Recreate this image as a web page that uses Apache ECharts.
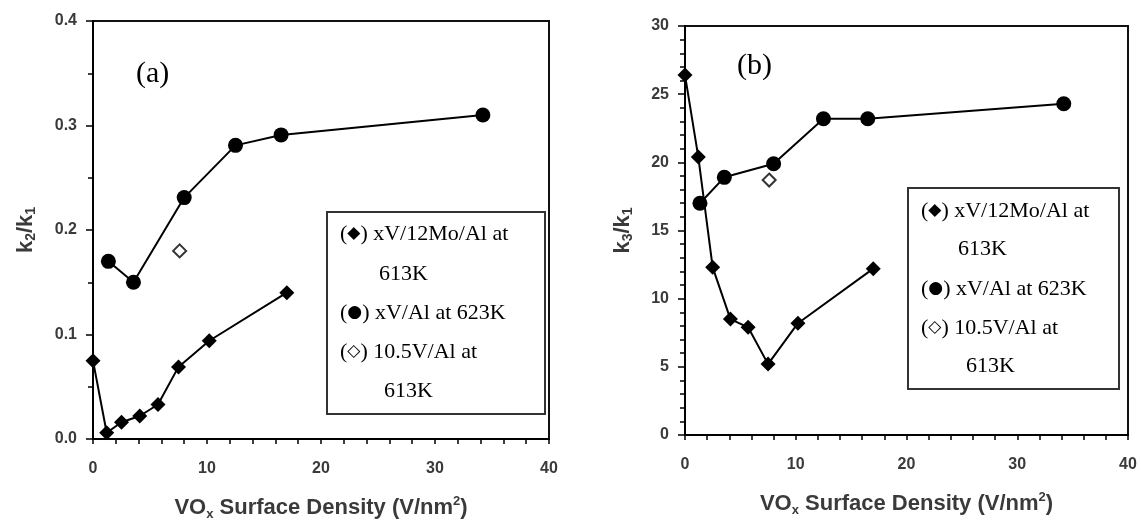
<!DOCTYPE html>
<html><head><meta charset="utf-8">
<script src="https://cdn.jsdelivr.net/npm/echarts@6/dist/echarts.min.js"></script>
<style>html,body{margin:0;padding:0;background:#fff}#c{width:1141px;height:526px}</style>
</head><body><div id="c"></div>
<script>
// Data
const moX   = [0, 1.2, 2.5, 4.1, 5.7, 7.5, 10.2, 17.0];          // xV/12Mo/Al at 613K
const moK2  = [0.075, 0.006, 0.016, 0.022, 0.033, 0.069, 0.094, 0.140];
const moK3  = [26.4, 20.4, 12.3, 8.5, 7.9, 5.2, 8.2, 12.2];
const alX   = [1.35, 3.55, 8.0, 12.5, 16.5, 34.2];               // xV/Al at 623K
const alK2  = [0.170, 0.150, 0.231, 0.281, 0.291, 0.310];
const alK3  = [17.0, 18.9, 19.9, 23.2, 23.2, 24.3];
const opX   = [7.6];                                             // 10.5V/Al at 613K
const opK2  = [0.180];
const opK3  = [18.7];
const xTicks = [0, 10, 20, 30, 40];
const yTicksA = [0, 0.1, 0.2, 0.3, 0.4];
const yTicksB = [0, 5, 10, 15, 20, 25, 30];

const zip = (xs, ys) => xs.map((x, i) => [x, ys[i]]);
const sans = 'Liberation Sans, Arial';
const serif = 'Liberation Serif, Times New Roman';
const labelFont = {fontFamily: sans, fontWeight: 'bold', fontSize: 16, color: '#3a3a3a'};

function xAxis(gi) {
  return {
    gridIndex: gi, type: 'value', min: xTicks[0], max: xTicks[xTicks.length - 1], interval: 10,
    axisLine: {show: true, onZero: false, lineStyle: {color: '#000', width: 2}},
    axisTick: {show: true, length: 5, lineStyle: {color: '#000', width: 1.5}},
    minorTick: {show: true, splitNumber: 5, length: 5, lineStyle: {color: '#000', width: 1.5}},
    splitLine: {show: false},
    axisLabel: Object.assign({margin: 22}, labelFont),
    name: '{b|VO}{s|x}{b| Surface Density (V/nm}{p|2}{b|)}',
    nameLocation: 'middle', nameGap: 56,
    nameTextStyle: {rich: {
      b: {fontFamily: sans, fontWeight: 'bold', fontSize: 22, color: '#3a3a3a', lineHeight: 26},
      s: {fontFamily: sans, fontWeight: 'bold', fontSize: 13, color: '#3a3a3a', verticalAlign: 'bottom', lineHeight: 18},
      p: {fontFamily: sans, fontWeight: 'bold', fontSize: 13, color: '#3a3a3a', verticalAlign: 'top', lineHeight: 18}
    }}
  };
}
function yAxis(gi, ticks, interval, minorSplit, fmt, sub, gap) {
  return {
    gridIndex: gi, type: 'value', min: ticks[0], max: ticks[ticks.length - 1], interval: interval,
    axisLine: {show: true, onZero: false, lineStyle: {color: '#000', width: 2}},
    axisTick: {show: true, length: 7, lineStyle: {color: '#000', width: 1.5}},
    minorTick: {show: true, splitNumber: minorSplit, length: 5, lineStyle: {color: '#000', width: 1.5}},
    splitLine: {show: false},
    axisLabel: Object.assign({margin: 16, formatter: fmt}, labelFont),
    name: '{b|k}{s|' + sub + '}{b|/k}{s|1}',
    nameLocation: 'middle', nameGap: gap, nameRotate: 90,
    nameTextStyle: {rich: {
      b: {fontFamily: sans, fontWeight: 'bold', fontSize: 22, color: '#3a3a3a', lineHeight: 24},
      s: {fontFamily: sans, fontWeight: 'bold', fontSize: 14, color: '#3a3a3a', verticalAlign: 'bottom', lineHeight: 16}
    }}
  };
}
function lineSeries(name, gi, data, symbol, size) {
  return {name: name, type: 'line', xAxisIndex: gi, yAxisIndex: gi, data: data,
    symbol: symbol, symbolSize: size, showSymbol: true,
    lineStyle: {color: '#000', width: 2}, itemStyle: {color: '#000'}, z: 3, animation: false};
}
function openSeries(name, gi, data) {
  return {name: name, type: 'scatter', xAxisIndex: gi, yAxisIndex: gi, data: data,
    symbol: 'diamond', symbolSize: 13, itemStyle: {color: '#fff', borderColor: '#000', borderWidth: 2}, z: 4, animation: false};
}
function legend(x, y, w, h, lines) {
  const rich = {
    t: {fontFamily: serif, fontSize: 22, color: '#4a4a4a'},
    m: {fontFamily: 'DejaVu Sans', fontSize: 17, color: '#000'}
  };
  const children = [{type: 'rect', shape: {x: 0, y: 0, width: w, height: h},
    style: {fill: '#fff', stroke: '#333', lineWidth: 2}}];
  lines.forEach(l => children.push({type: 'text', x: l[0], y: l[1],
    style: {text: l[2], rich: rich, verticalAlign: 'middle', textVerticalAlign: 'middle'}}));
  return {type: 'group', left: x, top: y, children: children, z: 10};
}
const legA = legend(326, 211, 218, 202, [
  [13, 22, '{t|(}{m|◆}{t|) xV/12Mo/Al at}'],
  [52, 62, '{t|613K}'],
  [13, 101, '{t|(}{m|●}{t|) xV/Al at 623K}'],
  [13, 140, '{t|(}{m|◇}{t|) 10.5V/Al at}'],
  [57, 179, '{t|613K}']
]);
const legB = legend(907, 187, 211, 201, [
  [13, 23, '{t|(}{m|◆}{t|) xV/12Mo/Al at}'],
  [50, 61, '{t|613K}'],
  [13, 101, '{t|(}{m|●}{t|) xV/Al at 623K}'],
  [13, 140, '{t|(}{m|◇}{t|) 10.5V/Al at}'],
  [58, 178, '{t|613K}']
]);

const chart = echarts.init(document.getElementById('c'), null, {renderer: 'canvas'});
chart.setOption({
  animation: false,
  backgroundColor: '#fff',
  grid: [
    {left: 93, top: 21, width: 456, height: 423, show: true, borderColor: '#111', borderWidth: 2, backgroundColor: 'transparent'},
    {left: 685, top: 26, width: 443, height: 409, show: true, borderColor: '#111', borderWidth: 2, backgroundColor: 'transparent'}
  ],
  xAxis: [xAxis(0), xAxis(1)],
  yAxis: [
    yAxis(0, yTicksA, 0.1, 2, v => v.toFixed(1), '2', 55),
    yAxis(1, yTicksB, 5, 5, v => String(v), '3', 50)
  ],
  graphic: [
    {type: 'text', left: 136, top: 59, style: {text: '(a)', fontFamily: serif, fontSize: 30, fill: '#000'}},
    {type: 'text', left: 737, top: 51, style: {text: '(b)', fontFamily: serif, fontSize: 30, fill: '#000'}},
    legA, legB
  ],
  series: [
    lineSeries('xV/12Mo/Al at 613K', 0, zip(moX, moK2), 'diamond', 15),
    lineSeries('xV/Al at 623K', 0, zip(alX, alK2), 'circle', 15),
    openSeries('10.5V/Al at 613K', 0, zip(opX, opK2)),
    lineSeries('xV/12Mo/Al at 613K', 1, zip(moX, moK3), 'diamond', 15),
    lineSeries('xV/Al at 623K', 1, zip(alX, alK3), 'circle', 15),
    openSeries('10.5V/Al at 613K', 1, zip(opX, opK3))
  ]
});
</script></body></html>
